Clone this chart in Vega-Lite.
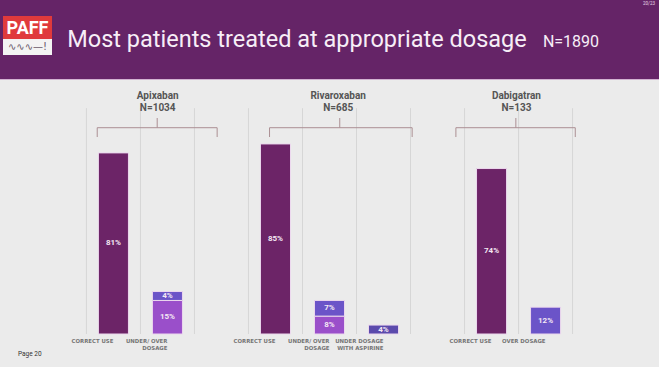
{
  "$schema": "https://vega.github.io/schema/vega-lite/v6.json",
  "padding": {"left": 0, "top": 0, "right": 0, "bottom": 13},
  "autosize": {"type": "pad"},
  "background": "#ebebeb",
  "config": {
    "view": {"stroke": null},
    "concat": {"spacing": 0},
    "font": "Roboto",
    "axisY": {"disable": true}
  },
  "datasets": {
    "bars": [
      {"drug": "Apixaban", "bar": "Apixaban: CORRECT USE", "type": "Correct use", "share": 0.81},
      {"drug": "Apixaban", "bar": "Apixaban: UNDER/ OVER\nDOSAGE", "type": "Under dosage", "share": 0.15},
      {"drug": "Apixaban", "bar": "Apixaban: UNDER/ OVER\nDOSAGE", "type": "Over dosage", "share": 0.04},
      {"drug": "Rivaroxaban", "bar": "Rivaroxaban: CORRECT USE", "type": "Correct use", "share": 0.85},
      {"drug": "Rivaroxaban", "bar": "Rivaroxaban: UNDER/ OVER\nDOSAGE", "type": "Under dosage", "share": 0.08},
      {"drug": "Rivaroxaban", "bar": "Rivaroxaban: UNDER/ OVER\nDOSAGE", "type": "Over dosage", "share": 0.07},
      {"drug": "Rivaroxaban", "bar": "Rivaroxaban: UNDER DOSAGE\nWITH ASPIRINE", "type": "Under dosage with aspirine", "share": 0.04},
      {"drug": "Dabigatran", "bar": "Dabigatran: CORRECT USE", "type": "Correct use", "share": 0.74},
      {"drug": "Dabigatran", "bar": "Dabigatran: OVER DOSAGE", "type": "Over dosage", "share": 0.12}
    ],
    "slots": [
      {"bar": "Apixaban: CORRECT USE"},
      {"bar": "Apixaban: UNDER/ OVER\nDOSAGE"},
      {"bar": "gap 1:"},
      {"bar": "Rivaroxaban: CORRECT USE"},
      {"bar": "Rivaroxaban: UNDER/ OVER\nDOSAGE"},
      {"bar": "Rivaroxaban: UNDER DOSAGE\nWITH ASPIRINE"},
      {"bar": "gap 2:"},
      {"bar": "Dabigatran: CORRECT USE"},
      {"bar": "Dabigatran: OVER DOSAGE"}
    ],
    "drugs": [
      {"drug": "Apixaban", "patients": "N=1034"},
      {"drug": "Rivaroxaban", "patients": "N=685"},
      {"drug": "Dabigatran", "patients": "N=133"}
    ]
  },
  "spacing": 0,
  "vconcat": [
    {
      "spacing": 0,
      "hconcat": [
        {
          "spacing": 0,
          "hconcat": [
            {"width": 3, "height": 79, "view": {"fill": "#652467", "stroke": null}, "data": {"values": [{}]}, "mark": {"type": "text", "text": "", "fontSize": 0.1}},
            {
              "spacing": 0,
              "vconcat": [
                {"width": 49, "height": 16, "view": {"fill": "#652467", "stroke": null}, "data": {"values": [{}]}, "mark": {"type": "text", "text": "", "fontSize": 0.1}},
                {"width": 49, "height": 23, "view": {"fill": "#e03a3c", "stroke": null}, "data": {"values": [{}]}, "mark": {"type": "text", "text": "PAFF", "font": "Roboto", "fontWeight": "bold", "fontSize": 18, "color": "#ffffff", "baseline": "middle", "dy": 1}},
                {"width": 49, "height": 16, "view": {"fill": "#f3f3f3", "stroke": null}, "data": {"values": [{}]}, "mark": {"type": "text", "text": "∿∿∿—!", "font": "DejaVu Sans", "fontSize": 10, "color": "#6a5a6a", "baseline": "middle"}},
                {"width": 49, "height": 24, "view": {"fill": "#652467", "stroke": null}, "data": {"values": [{}]}, "mark": {"type": "text", "text": "", "fontSize": 0.1}}
              ]
            },
            {"width": 3, "height": 79, "view": {"fill": "#652467", "stroke": null}, "data": {"values": [{}]}, "mark": {"type": "text", "text": "", "fontSize": 0.1}}
          ]
        },
        {"width": 484, "height": 79, "view": {"fill": "#652467", "stroke": null}, "data": {"values": [{}]}, "mark": {"type": "text", "text": "Most patients treated at appropriate dosage", "font": "Roboto", "fontSize": 23.5, "color": "#f7eef7", "baseline": "middle"}},
        {"width": 64, "height": 79, "view": {"fill": "#652467", "stroke": null}, "data": {"values": [{}]}, "mark": {"type": "text", "text": "N=1890", "font": "Roboto", "fontSize": 16, "color": "#f7eef7", "baseline": "middle", "dy": 2.5}},
        {"width": 36, "height": 79, "view": {"fill": "#652467", "stroke": null}, "data": {"values": [{}]}, "mark": {"type": "text", "text": "", "fontSize": 0.1}},
        {
          "spacing": 0,
          "vconcat": [
            {"width": 20, "height": 8, "view": {"fill": "#652467", "stroke": null}, "data": {"values": [{}]}, "mark": {"type": "text", "text": "20/23", "fontSize": 4.5, "color": "#e6d6e6", "baseline": "middle"}},
            {"width": 20, "height": 71, "view": {"fill": "#652467", "stroke": null}, "data": {"values": [{}]}, "mark": {"type": "text", "text": "", "fontSize": 0.1}}
          ]
        }
      ]
    },
    {"width": 659, "height": 1, "view": {"fill": "#d2b2d1", "stroke": null}, "data": {"values": [{}]}, "mark": {"type": "text", "text": "", "fontSize": 0.1}},
    {
      "width": 659,
      "height": 254,
      "title": {"text": "Page 20", "orient": "bottom", "anchor": "start", "dx": 18, "offset": 1, "fontSize": 6.5, "fontWeight": "normal", "color": "#333333", "font": "Roboto"},
      "layer": [
        {
          "data": {"name": "slots"},
          "mark": {"type": "rule", "color": "#d6d6d6", "strokeWidth": 1},
          "encoding": {
            "x": {"field": "bar", "type": "nominal", "bandPosition": 0, "title": null},
            "y": {"datum": 1.01, "title": null},
            "y2": {"datum": 0}
          }
        },
        {
          "data": {"values": [{}]},
          "mark": {"type": "rule", "color": "#d6d6d6", "strokeWidth": 1},
          "encoding": {
            "x": {"datum": "Dabigatran: OVER DOSAGE", "bandPosition": 1, "title": null},
            "y": {"datum": 1.01, "title": null},
            "y2": {"datum": 0}
          }
        },
        {
          "data": {"name": "drugs"},
          "transform": [{"filter": "datum.drug == 'Apixaban'"}],
          "layer": [
            {"mark": {"type": "rule", "color": "#ab8f93", "strokeWidth": 1}, "encoding": {"x": {"datum": "Apixaban: CORRECT USE", "bandPosition": 0.2, "title": null}, "x2": {"datum": "gap 1:", "bandPosition": 0.42}, "y": {"datum": 0.9226, "title": null}}},
            {"mark": {"type": "rule", "color": "#ab8f93", "strokeWidth": 1}, "encoding": {"x": {"datum": "Apixaban: CORRECT USE", "bandPosition": 0.2, "title": null}, "y": {"datum": 0.9226, "title": null}, "y2": {"datum": 0.881}}},
            {"mark": {"type": "rule", "color": "#ab8f93", "strokeWidth": 1}, "encoding": {"x": {"datum": "gap 1:", "bandPosition": 0.42, "title": null}, "y": {"datum": 0.9226, "title": null}, "y2": {"datum": 0.881}}},
            {"mark": {"type": "rule", "color": "#ab8f93", "strokeWidth": 1}, "encoding": {"x": {"datum": "Apixaban: UNDER/ OVER\nDOSAGE", "bandPosition": 0.31, "title": null}, "y": {"datum": 0.9226, "title": null}, "y2": {"datum": 0.966}}},
            {"mark": {"type": "text", "fontSize": 10, "fontWeight": "bold", "color": "#555555", "baseline": "middle"}, "encoding": {"x": {"datum": "Apixaban: UNDER/ OVER\nDOSAGE", "bandPosition": 0.32, "title": null}, "y": {"datum": 1.066, "title": null}, "text": {"field": "drug"}}},
            {"mark": {"type": "text", "fontSize": 10, "fontWeight": "bold", "color": "#555555", "baseline": "middle"}, "encoding": {"x": {"datum": "Apixaban: UNDER/ OVER\nDOSAGE", "bandPosition": 0.32, "title": null}, "y": {"datum": 1.009, "title": null}, "text": {"field": "patients"}}}
          ]
        },
        {
          "data": {"name": "drugs"},
          "transform": [{"filter": "datum.drug == 'Rivaroxaban'"}],
          "layer": [
            {"mark": {"type": "rule", "color": "#ab8f93", "strokeWidth": 1}, "encoding": {"x": {"datum": "Rivaroxaban: CORRECT USE", "bandPosition": 0.39, "title": null}, "x2": {"datum": "Rivaroxaban: UNDER DOSAGE\nWITH ASPIRINE", "bandPosition": 1.03}, "y": {"datum": 0.9226, "title": null}}},
            {"mark": {"type": "rule", "color": "#ab8f93", "strokeWidth": 1}, "encoding": {"x": {"datum": "Rivaroxaban: CORRECT USE", "bandPosition": 0.39, "title": null}, "y": {"datum": 0.9226, "title": null}, "y2": {"datum": 0.881}}},
            {"mark": {"type": "rule", "color": "#ab8f93", "strokeWidth": 1}, "encoding": {"x": {"datum": "Rivaroxaban: UNDER DOSAGE\nWITH ASPIRINE", "bandPosition": 1.03, "title": null}, "y": {"datum": 0.9226, "title": null}, "y2": {"datum": 0.881}}},
            {"mark": {"type": "rule", "color": "#ab8f93", "strokeWidth": 1}, "encoding": {"x": {"datum": "Rivaroxaban: UNDER/ OVER\nDOSAGE", "bandPosition": 0.69, "title": null}, "y": {"datum": 0.9226, "title": null}, "y2": {"datum": 0.966}}},
            {"mark": {"type": "text", "fontSize": 10, "fontWeight": "bold", "color": "#555555", "baseline": "middle"}, "encoding": {"x": {"datum": "Rivaroxaban: UNDER/ OVER\nDOSAGE", "bandPosition": 0.66, "title": null}, "y": {"datum": 1.066, "title": null}, "text": {"field": "drug"}}},
            {"mark": {"type": "text", "fontSize": 10, "fontWeight": "bold", "color": "#555555", "baseline": "middle"}, "encoding": {"x": {"datum": "Rivaroxaban: UNDER/ OVER\nDOSAGE", "bandPosition": 0.66, "title": null}, "y": {"datum": 1.009, "title": null}, "text": {"field": "patients"}}}
          ]
        },
        {
          "data": {"name": "drugs"},
          "transform": [{"filter": "datum.drug == 'Dabigatran'"}],
          "layer": [
            {"mark": {"type": "rule", "color": "#ab8f93", "strokeWidth": 1}, "encoding": {"x": {"datum": "gap 2:", "bandPosition": 0.84, "title": null}, "x2": {"datum": "Dabigatran: OVER DOSAGE", "bandPosition": 1.05}, "y": {"datum": 0.9226, "title": null}}},
            {"mark": {"type": "rule", "color": "#ab8f93", "strokeWidth": 1}, "encoding": {"x": {"datum": "gap 2:", "bandPosition": 0.84, "title": null}, "y": {"datum": 0.9226, "title": null}, "y2": {"datum": 0.881}}},
            {"mark": {"type": "rule", "color": "#ab8f93", "strokeWidth": 1}, "encoding": {"x": {"datum": "Dabigatran: OVER DOSAGE", "bandPosition": 1.05, "title": null}, "y": {"datum": 0.9226, "title": null}, "y2": {"datum": 0.881}}},
            {"mark": {"type": "rule", "color": "#ab8f93", "strokeWidth": 1}, "encoding": {"x": {"datum": "Dabigatran: CORRECT USE", "bandPosition": 0.95, "title": null}, "y": {"datum": 0.9226, "title": null}, "y2": {"datum": 0.966}}},
            {"mark": {"type": "text", "fontSize": 10, "fontWeight": "bold", "color": "#555555", "baseline": "middle"}, "encoding": {"x": {"datum": "Dabigatran: CORRECT USE", "bandPosition": 0.96, "title": null}, "y": {"datum": 1.066, "title": null}, "text": {"field": "drug"}}},
            {"mark": {"type": "text", "fontSize": 10, "fontWeight": "bold", "color": "#555555", "baseline": "middle"}, "encoding": {"x": {"datum": "Dabigatran: CORRECT USE", "bandPosition": 0.96, "title": null}, "y": {"datum": 1.009, "title": null}, "text": {"field": "patients"}}}
          ]
        },
        {
          "data": {"name": "bars"},
          "mark": {"type": "bar", "width": {"band": 0.556}, "stroke": "#ecd8ee", "strokeWidth": 1},
          "encoding": {
            "x": {
              "field": "bar",
              "type": "nominal",
              "title": null,
              "scale": {
                "domain": ["gap 0:", "Apixaban: CORRECT USE", "Apixaban: UNDER/ OVER\nDOSAGE", "gap 1:", "Rivaroxaban: CORRECT USE", "Rivaroxaban: UNDER/ OVER\nDOSAGE", "Rivaroxaban: UNDER DOSAGE\nWITH ASPIRINE", "gap 2:", "Dabigatran: CORRECT USE", "Dabigatran: OVER DOSAGE", "gap 3:"],
                "paddingInner": 0,
                "paddingOuter": 0.6
              },
              "axis": {
                "title": null,
                "domain": false,
                "ticks": false,
                "grid": false,
                "labelAngle": 0,
                "labelPadding": 6,
                "labelFont": "DejaVu Sans",
                "labelFontWeight": "bold",
                "labelFontSize": 5.4,
                "labelColor": "#767676",
                "labelLineHeight": 7,
                "labelOverlap": false,
                "labelExpr": "split(slice(datum.value, indexof(datum.value, ':') + 2), '\\n')"
              }
            },
            "y": {"field": "share", "type": "quantitative", "stack": "zero", "title": null, "axis": null, "scale": {"domain": [0, 1.136], "nice": false, "zero": true}},
            "color": {
              "field": "type",
              "type": "nominal",
              "legend": null,
              "scale": {
                "domain": ["Correct use", "Under dosage", "Over dosage", "Under dosage with aspirine"],
                "range": ["#6c2467", "#9a4fca", "#6b54c8", "#5b4aac"]
              }
            },
            "order": {"field": "type", "sort": "descending"}
          }
        },
        {
          "data": {"name": "bars"},
          "mark": {"type": "text", "fontSize": 8, "fontWeight": "bold", "color": "#f4e8f4", "baseline": "middle"},
          "encoding": {
            "x": {"field": "bar", "type": "nominal", "title": null},
            "y": {"field": "share", "type": "quantitative", "stack": "zero", "bandPosition": 0.5, "title": null},
            "detail": {"field": "type"},
            "order": {"field": "type", "sort": "descending"},
            "text": {"field": "share", "type": "quantitative", "format": ".0%"}
          }
        }
      ]
    }
  ]
}
